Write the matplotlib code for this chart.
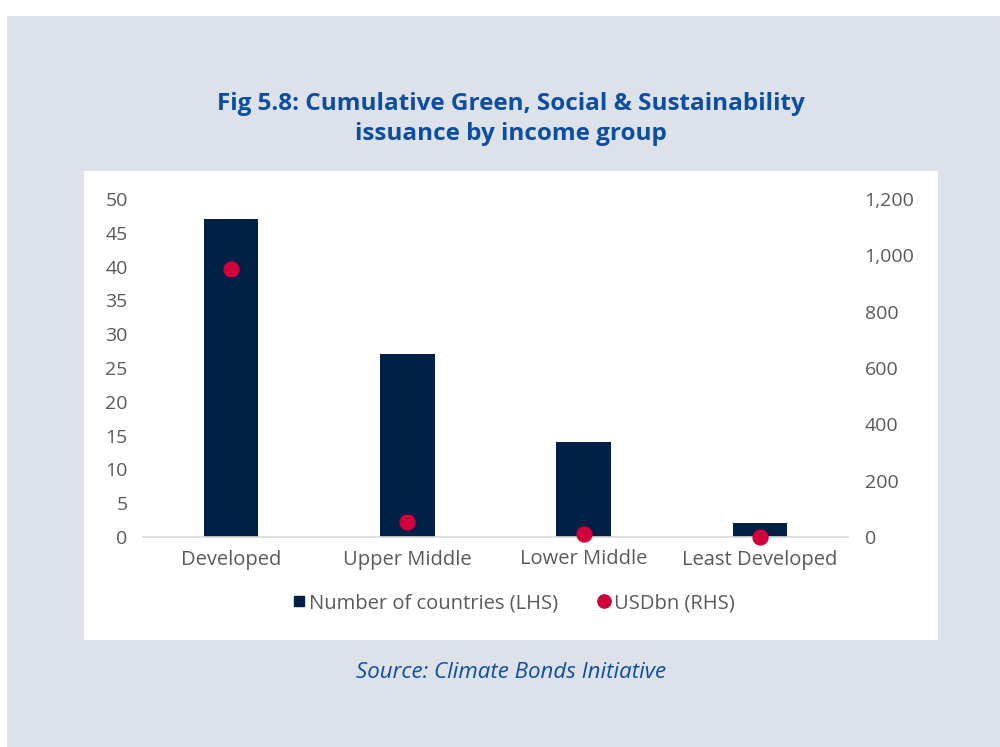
import matplotlib
matplotlib.use("Agg")
import matplotlib.pyplot as plt
from matplotlib.patches import Rectangle
from matplotlib.lines import Line2D

plt.rcParams['font.family'] = ['Open Sans', 'DejaVu Sans']

# data
groups = ['Developed', 'Upper Middle', 'Lower Middle', 'Least Developed']
n_countries = [47, 27, 14, 2]
usd_bn = [950, 55, 12, 1]

left_ticks = [0, 5, 10, 15, 20, 25, 30, 35, 40, 45, 50]
right_ticks = [0, 200, 400, 600, 800, 1000, 1200]

bar_col = '#021f45'
dot_col = '#d1003a'
txt_col = '#595959'
blue = '#0d4ea1'
W, H = 1000, 747

fig = plt.figure(figsize=(W / 100, H / 100), dpi=100, facecolor='white')

# grey page panel and white chart card (behind the axes)
fig.patches.append(Rectangle((7 / W, 0), 1 - 7 / W, 1 - 16 / H, transform=fig.transFigure,
                             facecolor='#dde1ea', edgecolor='none', zorder=-10))
fig.patches.append(Rectangle((84 / W, 1 - 640 / H), (938 - 84) / W, (640 - 171) / H,
                             transform=fig.transFigure, facecolor='white', edgecolor='none', zorder=-9))

ax = fig.add_axes([143 / W, 1 - 537 / H, (848 - 143) / W, (537 - 199) / H])
ax.patch.set_visible(False)
x = range(len(groups))
ax.bar(x, n_countries, width=0.31, color=bar_col, zorder=2)
ax.set_xlim(-0.5, len(groups) - 0.5)
ax.set_ylim(0, 50)
ax.set_yticks(left_ticks)
ax.set_xticks(list(x))
ax.set_xticklabels(groups)
for s in ['top', 'left', 'right']:
    ax.spines[s].set_visible(False)
ax.spines['bottom'].set_color('#d9d9d9')
ax.spines['bottom'].set_linewidth(1.2)
ax.tick_params(axis='y', length=0, pad=11, labelsize=14, labelcolor=txt_col)
ax.tick_params(axis='x', length=0, pad=9, labelsize=14.5, labelcolor=txt_col)

ax2 = ax.twinx()
ax2.scatter(x, usd_bn, s=115, color=dot_col, zorder=3, clip_on=False)
ax2.set_ylim(0, 1200)
ax2.set_yticks(right_ticks)
ax2.set_yticklabels([f'{v:,}' for v in right_ticks])
for s in ax2.spines.values():
    s.set_visible(False)
ax2.tick_params(axis='y', length=0, pad=12, labelsize=14, labelcolor=txt_col)

handles = [Line2D([], [], marker='s', linestyle='none', color=bar_col, markersize=6.5),
           Line2D([], [], marker='o', linestyle='none', color=dot_col, markersize=9.5)]
fig.legend(handles, ['Number of countries (LHS)', 'USDbn (RHS)'], loc='center',
           bbox_to_anchor=(512 / W, 1 - 603 / H), ncol=2, frameon=False,
           handletextpad=0.0, columnspacing=1.8, handlelength=1.0,
           prop={'size': 14.5}, labelcolor=txt_col)

fig.text(511 / W, 1 - 119 / H, 'Fig 5.8: Cumulative Green, Social & Sustainability\nissuance by income group',
         ha='center', va='center', fontsize=17.5, fontweight='bold', color=blue, linespacing=1.38)
fig.text(511 / W, 1 - 672 / H, 'Source: Climate Bonds Initiative', ha='center', va='center',
         fontsize=16, style='italic', color=blue)

fig.savefig('out.png', dpi=100, facecolor='white')
